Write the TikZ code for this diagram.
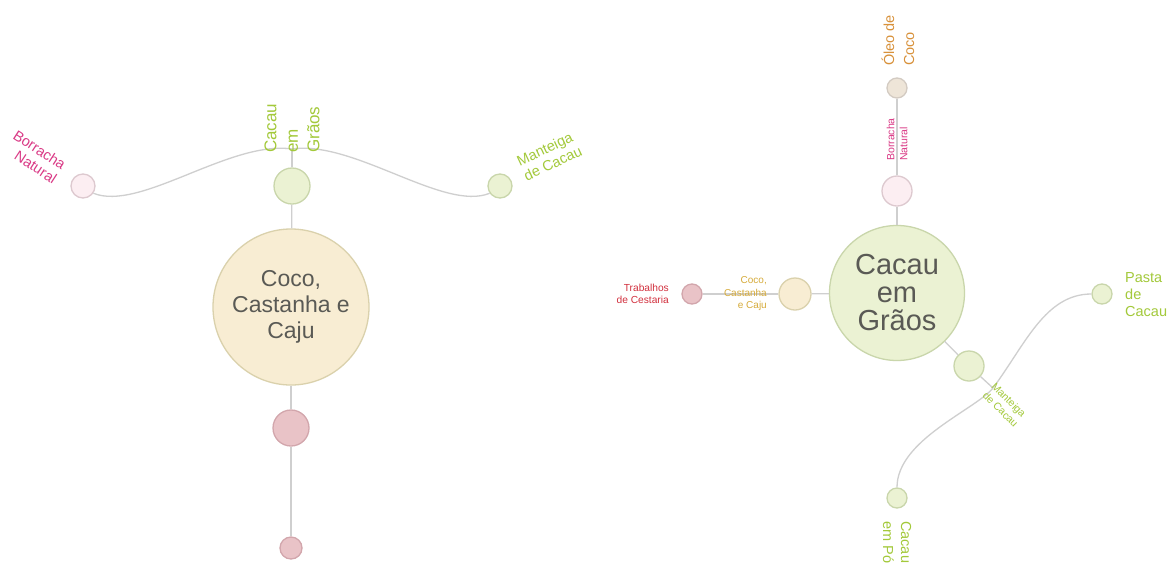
\documentclass[tikz,border=0pt]{standalone}
\usepackage{fontspec}
\setmainfont{Liberation Sans}
\definecolor{edgegray}{HTML}{CFCFCF}
\definecolor{greenfill}{HTML}{EBF2D3}
\definecolor{greenline}{HTML}{C9D6AB}
\definecolor{tanfill}{HTML}{F8EDD3}
\definecolor{tanline}{HTML}{DAD1AC}
\definecolor{rosefill}{HTML}{E9C3C7}
\definecolor{roseline}{HTML}{D2A6AC}
\definecolor{blushfill}{HTML}{FCEEF2}
\definecolor{blushline}{HTML}{DDC9CF}
\definecolor{beigefill}{HTML}{EEE5D8}
\definecolor{beigeline}{HTML}{D3CBC2}
\definecolor{txtgreen}{HTML}{A3C93A}
\definecolor{txtpink}{HTML}{DA3A86}
\definecolor{txtred}{HTML}{D2303E}
\definecolor{txtorange}{HTML}{D8913A}
\definecolor{txtmustard}{HTML}{D6AB3A}
\definecolor{txtdark}{HTML}{5A5A55}
\tikzset{
  dot/.style={circle, inner sep=0pt, line width=1.3pt},
  greendot/.style={dot, draw=greenline, fill=greenfill},
  tandot/.style={dot, draw=tanline, fill=tanfill},
  rosedot/.style={dot, draw=roseline, fill=rosefill},
  blushdot/.style={dot, draw=blushline, fill=blushfill},
  beigedot/.style={dot, draw=beigeline, fill=beigefill},
  link/.style={draw=edgegray, line width=1.3pt},
  lbl/.style={inner sep=0pt},
  fs/.style n args={2}{font=\fontsize{#1}{#2}\selectfont},
}
\begin{document}
\begin{tikzpicture}[x=1pt, y=-1pt]
\useasboundingbox[fill=white] (0,0) rectangle (1170,563);

% ---- left cluster: Coco, Castanha e Caju ----
\node[tandot, minimum size=156pt, text=txtdark, align=center, fs={23}{26}] (coco) at (291,307) {Coco,\\Castanha e\\Caju};
\node[greendot, minimum size=36pt] (cacauA) at (292,186) {};
\node[rosedot, minimum size=36pt] (roseA) at (291,428) {};
\node[rosedot, minimum size=22pt] (roseB) at (291,548) {};
\node[blushdot, minimum size=24pt] (borrA) at (83,186) {};
\node[greendot, minimum size=24pt] (mantA) at (500,186) {};
\coordinate (hubA) at (292,149);

\draw[link] (coco) -- (cacauA);
\draw[link] (cacauA) -- (hubA);
\draw[link] (hubA) .. controls (230,140) and (140,212) .. (borrA.-35);
\draw[link] (hubA) .. controls (354,140) and (444,212) .. (mantA.215);
\draw[link] (coco) -- (roseA);
\draw[link] (roseA) -- (roseB);

\node[lbl, text=txtgreen, fs={17}{21.5}, rotate=90, anchor=west, align=left] (lCacauA) at (292,153) {Cacau\\em\\Grãos};
\node[lbl, text=txtpink, fs={14.5}{16.5}, rotate=-33, anchor=east, align=right] (lBorrA) at (60,173) {Borracha\\Natural};
\node[lbl, text=txtgreen, fs={14.5}{16.5}, rotate=25, anchor=west, align=left] (lMantA) at (521,169) {Manteiga\\de Cacau};

% ---- right cluster: Cacau em Grãos ----
\node[greendot, minimum size=135pt, text=txtdark, align=center, fs={29}{28}] (cacauB) at (897,293) {Cacau\\em\\Grãos};
\node[blushdot, minimum size=30pt] (borrB) at (897,191) {};
\node[beigedot, minimum size=20pt] (oleo) at (897,88) {};
\node[tandot, minimum size=32pt] (cocoB) at (795,294) {};
\node[rosedot, minimum size=20pt] (trab) at (692,294) {};
\node[greendot, minimum size=30pt] (mantB) at (969,366) {};
\node[greendot, minimum size=20pt] (pasta) at (1102,294) {};
\node[greendot, minimum size=20pt] (po) at (897,498) {};
\coordinate (hubB) at (993,388);

\draw[link] (cacauB) -- (borrB);
\draw[link] (borrB) -- (oleo);
\draw[link] (cacauB) -- (cocoB);
\draw[link] (cocoB) -- (trab);
\draw[link] (cacauB) -- (mantB);
\draw[link] (mantB) -- (hubB);
\draw[link] (hubB) .. controls (1025,345) and (1045,294) .. (pasta.west);
\draw[link] (hubB) .. controls (975,410) and (897,440) .. (po.north);

\node[lbl, text=txtpink, fs={10.5}{13}, rotate=90, anchor=west, align=left] (lBorrB) at (897,161) {Borracha\\Natural};
\node[lbl, text=txtorange, fs={14.5}{20}, rotate=90, anchor=west, align=left] (lOleo) at (898,66) {Óleo de\\Coco};
\node[lbl, text=txtmustard, fs={10}{12.5}, anchor=east, align=right] (lCocoB) at (767,294) {Coco,\\Castanha\\e Caju};
\node[lbl, text=txtred, fs={10.2}{12.5}, anchor=east, align=right] (lTrab) at (669,294) {Trabalhos\\de Cestaria};
\node[lbl, text=txtgreen, fs={10.5}{12.5}, rotate=-45, anchor=west, align=left] (lMantB) at (989,389) {Manteiga\\de Cacau};
\node[lbl, text=txtgreen, fs={14.5}{17}, anchor=west, align=left] (lPasta) at (1125,295) {Pasta\\de\\Cacau};
\node[lbl, text=txtgreen, fs={14.5}{18}, rotate=-90, anchor=west, align=left] (lPo) at (897,521) {Cacau\\em Pó};
\end{tikzpicture}
\end{document}
